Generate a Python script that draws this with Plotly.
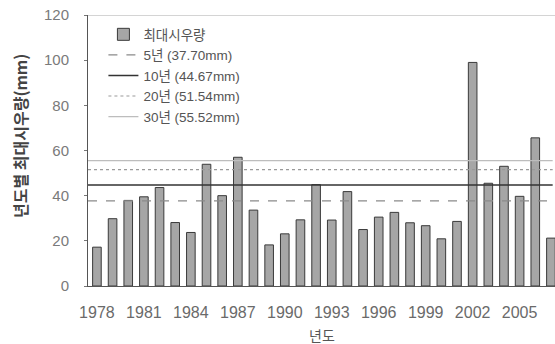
import plotly.graph_objects as go

years = list(range(1978, 2008))
rain = [17.2, 29.8, 37.9, 39.5, 43.6, 28.1, 23.7, 53.9, 40.0, 57.0,
        33.6, 18.2, 23.1, 29.3, 44.9, 29.2, 41.8, 25.0, 30.5, 32.6,
        28.0, 26.7, 20.9, 28.6, 99.0, 45.5, 53.0, 39.7, 65.6, 21.2]
tick_years = years[::3][:10]
ref_names = ["5년 (37.70mm)", "10년 (44.67mm)", "20년 (51.54mm)", "30년 (55.52mm)"]
ref_values = [37.70, 44.67, 51.54, 55.52]
ref_colors = ["#8a8a8a", "#333333", "#9a9a9a", "#bdbdbd"]
ref_dash = ["dash", "solid", "dot", "solid"]
ref_width = [1.2, 1.5, 1.2, 1.2]

FONT = "Liberation Sans, Noto Sans CJK KR"

fig = go.Figure()
fig.add_trace(go.Bar(x=years, y=rain, name="최대시우량", width=0.55,
                     marker=dict(color="#a6a6a6", line=dict(color="#3a3a3a", width=1)),
                     legendrank=1))

shapes = []
for i, (n, v, c, d, w) in enumerate(zip(ref_names, ref_values, ref_colors, ref_dash, ref_width)):
    shapes.append(dict(type="line", xref="x domain", yref="y", x0=0, x1=0.995, y0=v, y1=v,
                       line=dict(color=c, dash=d, width=w), showlegend=True, name=n,
                       legendrank=i + 2, layer="above"))

fig.update_layout(
    width=555, height=344,
    margin=dict(l=88, r=0, t=15, b=58),
    paper_bgcolor="white", plot_bgcolor="white",
    font=dict(family=FONT, size=14, color="#555555"),
    shapes=shapes,
    showlegend=True,
    legend=dict(x=0.033, y=0.985, xanchor="left", yanchor="top", bgcolor="rgba(0,0,0,0)",
                font=dict(family=FONT, size=13.5, color="#555555"),
                tracegroupgap=0, itemwidth=30),
    xaxis=dict(range=[1977.43, 2007.26], tickmode="array", tickvals=tick_years,
               ticktext=[str(y) for y in tick_years], showgrid=False, zeroline=False,
               showline=True, linecolor="#555555", linewidth=1, mirror=False,
               ticks="", tickfont=dict(family=FONT, size=16, color="#6a6a6a"),
               automargin=False, ticklabelstandoff=12),
    yaxis=dict(range=[0, 120], tickvals=[0, 20, 40, 60, 80, 100, 120], showgrid=False,
               zeroline=False, showline=True, linecolor="#555555", linewidth=1,
               ticks="outside", ticklen=3, tickcolor="#777777",
               tickfont=dict(family=FONT, size=15, color="#7a7a7a"),
               automargin=False, ticklabelstandoff=12),
    annotations=[
        dict(text="년도", xref="paper", yref="paper", x=0.5, y=-0.181,
             xanchor="center", yanchor="middle", showarrow=False,
             font=dict(family="Noto Sans CJK KR", size=14, color="#555555")),
        dict(text="<b>년도별 최대시우량(mm)</b>", xref="paper", yref="paper", x=-0.1456, y=0.5535,
             xanchor="center", yanchor="middle", showarrow=False, textangle=-90,
             font=dict(family="Noto Sans CJK KR", size=16, color="#444444")),
    ],
)
fig.add_shape(type="line", xref="paper", yref="y", x0=0, x1=1, y0=120, y1=120,
              line=dict(color="#aaaaaa", width=1))

fig.write_html("out.html", config={"displayModeBar": False},
               post_script="document.body.style.margin='0';document.body.style.overflow='hidden';")
